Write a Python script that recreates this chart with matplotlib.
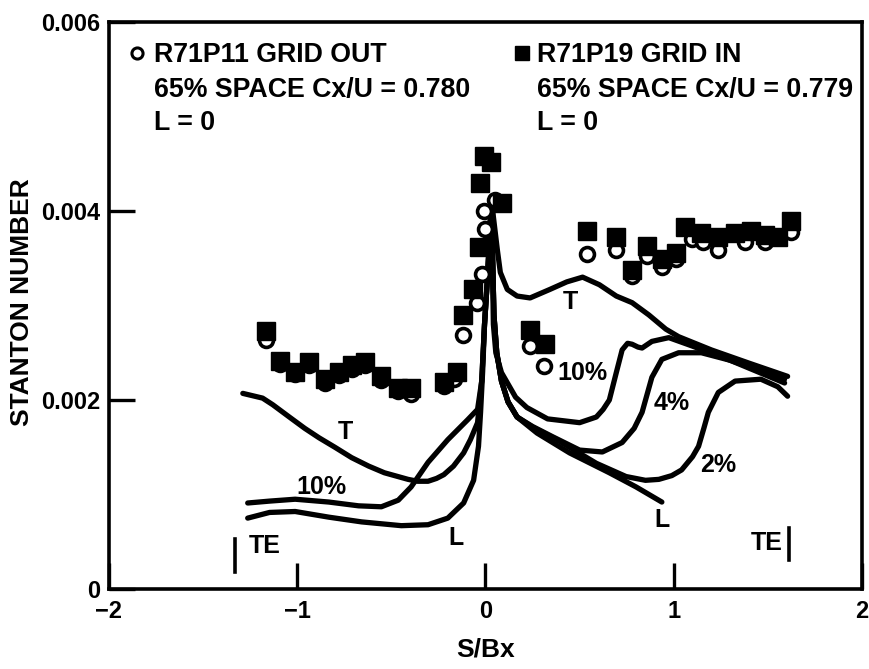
"""
Stanton number distribution, grid out vs grid in, with predicted curves
"""
import matplotlib
matplotlib.use("Agg")
import matplotlib.pyplot as plt

plt.rcParams['font.family'] = ['Liberation Sans', 'DejaVu Sans']
plt.rcParams['font.weight'] = 'bold'
plt.rcParams['axes.labelweight'] = 'bold'

# measured points (S/Bx, Stanton number x 1e-3)
grid_out_s = [-1.168, -1.09, -1.01, -0.937, -0.853, -0.78, -0.71, -0.642, -0.553, -0.463,
              -0.395, -0.22, -0.168, -0.12, -0.047, -0.016, 0.0, -0.01, 0.053,
              0.237, 0.31, 0.537, 0.695, 0.779, 0.858, 0.937, 1.01, 1.095, 1.158,
              1.237, 1.379, 1.484, 1.621]
grid_out_st = [2.63, 2.38, 2.27, 2.37, 2.18, 2.26, 2.33, 2.37, 2.21, 2.09,
               2.06, 2.15, 2.22, 2.69, 3.03, 3.33, 3.81, 4.00, 4.12,
               2.57, 2.36, 3.54, 3.59, 3.31, 3.52, 3.41, 3.49, 3.70, 3.67,
               3.59, 3.67, 3.67, 3.78]

grid_in_s = [-1.168, -1.09, -1.01, -0.937, -0.853, -0.78, -0.71, -0.642, -0.553, -0.463,
             -0.395, -0.22, -0.153, -0.12, -0.068, -0.037, -0.03, -0.01, 0.03, 0.09,
             0.237, 0.316, 0.537, 0.695, 0.779, 0.858, 0.937, 1.01, 1.06, 1.147,
             1.237, 1.326, 1.41, 1.484, 1.553, 1.621]
grid_in_st = [2.73, 2.41, 2.30, 2.40, 2.22, 2.30, 2.37, 2.40, 2.25, 2.13,
              2.13, 2.19, 2.30, 2.90, 3.17, 3.62, 4.30, 4.58, 4.52, 4.08,
              2.74, 2.59, 3.79, 3.72, 3.38, 3.63, 3.49, 3.56, 3.83, 3.77,
              3.73, 3.77, 3.79, 3.75, 3.72, 3.89]

# predicted curves
t_s = [-1.289, -1.184, -1.13, -1.042, -0.96, -0.884, -0.80, -0.711, -0.62, -0.537, -0.411,
       -0.36, -0.305, -0.26, -0.221, -0.17, -0.116, -0.08, -0.042, -0.02, -0.005, 0.011,
       0.026, 0.032, 0.042, 0.063, 0.079, 0.116, 0.168, 0.237, 0.342, 0.432, 0.516, 0.605,
       0.695, 0.779, 0.868, 0.958, 1.026, 1.2, 1.4, 1.605]
t_st = [2.07, 2.02, 1.95, 1.82, 1.70, 1.60, 1.50, 1.39, 1.30, 1.23, 1.16,
        1.14, 1.14, 1.17, 1.21, 1.30, 1.44, 1.58, 1.76, 2.2, 2.8, 3.3,
        3.9, 4.15, 3.94, 3.59, 3.35, 3.17, 3.10, 3.08, 3.17, 3.25, 3.30, 3.22,
        3.10, 3.03, 2.90, 2.75, 2.67, 2.53, 2.39, 2.25]

ten_s = [-1.263, -1.147, -1.011, -0.832, -0.674, -0.553, -0.463, -0.395, -0.305, -0.2,
         -0.095, -0.042, -0.02, -0.005, 0.011, 0.026, 0.032, 0.036, 0.042, 0.055, 0.085,
         0.16, 0.22, 0.33, 0.5, 0.589, 0.625, 0.658, 0.695, 0.726, 0.755, 0.779, 0.81,
         0.832, 0.884, 0.974, 1.1, 1.3, 1.589]
ten_st = [0.91, 0.93, 0.95, 0.92, 0.88, 0.87, 0.94, 1.08, 1.34, 1.58,
          1.79, 1.90, 2.2, 2.8, 3.3, 3.9, 4.15, 3.6, 2.8, 2.5, 2.29,
          2.03, 1.92, 1.80, 1.76, 1.82, 1.90, 2.00, 2.29, 2.53, 2.60, 2.59, 2.56,
          2.55, 2.62, 2.66, 2.57, 2.42, 2.18]

four_s = [0.032, 0.038, 0.045, 0.06, 0.085, 0.12, 0.168, 0.25, 0.358, 0.5, 0.621, 0.726,
          0.79, 0.832, 0.884, 0.937, 1.026, 1.147, 1.3, 1.589]
four_st = [4.15, 3.5, 2.9, 2.5, 2.2, 1.98, 1.82, 1.72, 1.61, 1.47, 1.45, 1.55,
           1.70, 1.87, 2.24, 2.43, 2.50, 2.50, 2.42, 2.22]

two_s = [0.032, 0.038, 0.045, 0.06, 0.085, 0.12, 0.168, 0.26, 0.379, 0.589, 0.747, 0.85,
         0.921, 0.99, 1.042, 1.1, 1.132, 1.16, 1.184, 1.237, 1.326, 1.463, 1.553, 1.605]
two_st = [4.15, 3.5, 2.9, 2.5, 2.2, 1.98, 1.82, 1.70, 1.58, 1.33, 1.19, 1.15,
          1.16, 1.20, 1.26, 1.40, 1.51, 1.70, 1.87, 2.08, 2.20, 2.22, 2.14, 2.04]

l_s = [-1.263, -1.147, -1.011, -0.832, -0.658, -0.447, -0.305, -0.2, -0.116, -0.063,
       -0.037, -0.026, -0.015, -0.005, 0.011, 0.026, 0.032, 0.038, 0.045, 0.06, 0.085,
       0.12, 0.168, 0.274, 0.447, 0.658, 0.8, 0.937]
l_st = [0.75, 0.81, 0.82, 0.76, 0.71, 0.67, 0.68, 0.75, 0.91, 1.15,
        1.51, 1.87, 2.3, 2.8, 3.3, 3.9, 4.15, 3.5, 2.9, 2.5, 2.2,
        1.98, 1.82, 1.65, 1.44, 1.23, 1.08, 0.92]

x_ticks = [-2, -1, 0, 1, 2]
x_tick_labels = ['\u22122', '\u22121', '0', '1', '2']
y_ticks = [0, 0.002, 0.004, 0.006]
y_tick_labels = ['0', '0.002', '0.004', '0.006']


def scaled(vals):
    return [v * 1e-3 for v in vals]


fig = plt.figure(figsize=(8.69, 6.69), dpi=100)
ax = fig.add_axes([0.1254, 0.1196, 0.8665, 0.8475])

line_kw = dict(color='black', lw=3.8, solid_capstyle='round', solid_joinstyle='round', zorder=2)
for xs, ys in [(t_s, t_st), (ten_s, ten_st), (four_s, four_st), (two_s, two_st), (l_s, l_st)]:
    ax.plot(xs, scaled(ys), **line_kw)

ax.plot(grid_out_s, scaled(grid_out_st), 'o', ms=10, mfc='white', mec='black', mew=2.6, zorder=3)
ax.plot(grid_in_s, scaled(grid_in_st), 's', ms=12.5, mfc='black', mec='black', mew=1, zorder=4)

# curve labels
fs = 18
ax.text(-0.746, 1.66e-3, 'T', fontsize=fs, ha='center', va='center')
ax.text(-0.873, 1.08e-3, '10%', fontsize=fs, ha='center', va='center')
ax.text(-0.159, 0.54e-3, 'L', fontsize=fs, ha='center', va='center')
ax.text(-1.175, 0.455e-3, 'TE', fontsize=fs, ha='center', va='center')
ax.plot([-1.328, -1.328], [0.18e-3, 0.53e-3], color='black', lw=2.6)
ax.text(0.45, 3.04e-3, 'T', fontsize=fs, ha='center', va='center')
ax.text(0.513, 2.29e-3, '10%', fontsize=fs, ha='center', va='center')
ax.text(0.989, 1.97e-3, '4%', fontsize=fs, ha='center', va='center')
ax.text(1.238, 1.31e-3, '2%', fontsize=fs, ha='center', va='center')
ax.text(0.937, 0.73e-3, 'L', fontsize=fs, ha='center', va='center')
ax.text(1.492, 0.487e-3, 'TE', fontsize=fs, ha='center', va='center')
ax.plot([1.614, 1.614], [0.31e-3, 0.645e-3], color='black', lw=2.6)

# legend block
ax.plot([0.037], [0.945], 'o', ms=8, mfc='white', mec='black', mew=2.2, transform=ax.transAxes)
ax.plot([0.549], [0.945], 's', ms=10, mfc='black', mec='black', transform=ax.transAxes)
left_lines = ['R71P11 GRID OUT', '65% SPACE Cx/U = 0.780', 'L = 0']
right_lines = ['R71P19 GRID IN', '65% SPACE Cx/U = 0.779', 'L = 0']
for yy, lt, rt in zip([0.942, 0.880, 0.822], left_lines, right_lines):
    ax.text(0.0595, yy, lt, fontsize=19.3, ha='left', va='center', transform=ax.transAxes)
    ax.text(0.569, yy, rt, fontsize=19.3, ha='left', va='center', transform=ax.transAxes)

ax.set_xlim(-2, 2)
ax.set_ylim(0, 0.006)
ax.set_xticks(x_ticks)
ax.set_xticklabels(x_tick_labels)
ax.set_yticks(y_ticks)
ax.set_yticklabels(y_tick_labels)
ax.tick_params(direction='in', length=19, width=2.4, labelsize=17)
ax.tick_params(axis='x', pad=8)
ax.tick_params(axis='y', pad=6)
for sp in ax.spines.values():
    sp.set_linewidth(2.6)

ax.set_xlabel('S/Bx', fontsize=19)
ax.xaxis.set_label_coords(0.5, -0.085)
ax.set_ylabel('STANTON NUMBER', fontsize=19)
ax.yaxis.set_label_coords(-0.100, 0.506)

fig.savefig('out.png', dpi=100)
